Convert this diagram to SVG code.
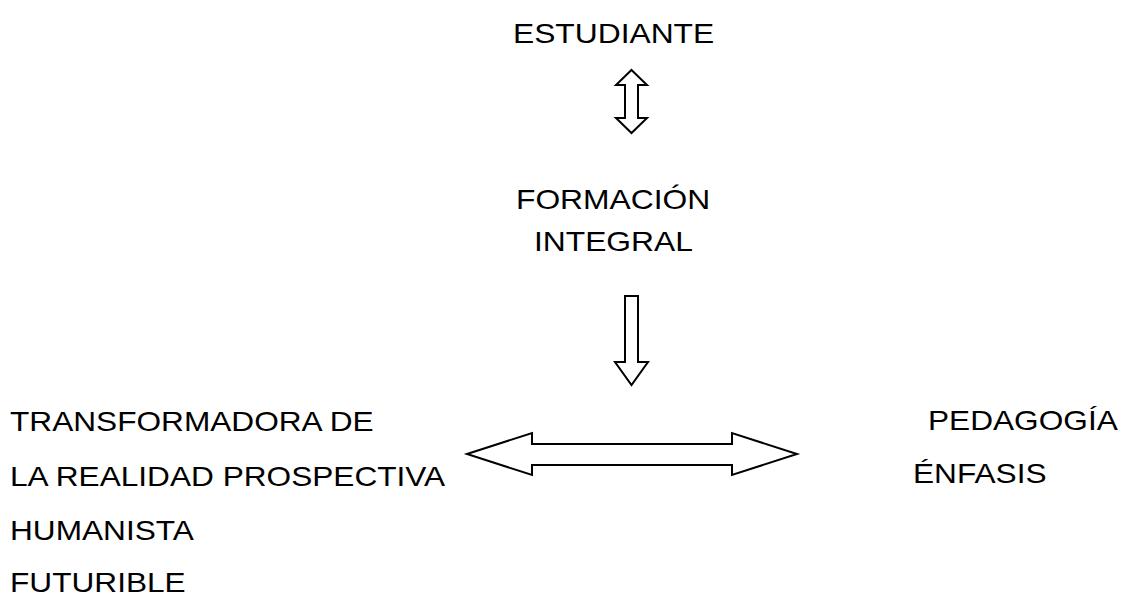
<svg xmlns="http://www.w3.org/2000/svg" width="1125" height="597" viewBox="0 0 1125 597">
<style>
text{font-family:"Liberation Sans",Arial,sans-serif;font-size:28.5px;fill:#000}
.arr{fill:#fff;stroke:#000;stroke-width:2;stroke-linejoin:miter}
</style>
<rect width="1125" height="597" fill="#fff"/>
<g id="estudiante"><text transform="matrix(1.115 0 0 1 513 43)">ESTUDIANTE</text></g>
<g id="formacion"><text transform="matrix(1.115 0 0 1 516 209)">FORMACIÓN</text>
<text transform="matrix(1.115 0 0 1 534 251)">INTEGRAL</text></g>
<g id="izquierda">
<text transform="matrix(1.11 0 0 1 10 431)">TRANSFORMADORA DE</text>
<text transform="matrix(1.11 0 0 1 10 486)">LA REALIDAD PROSPECTIVA</text>
<text transform="matrix(1.11 0 0 1 10 540)">HUMANISTA</text>
<text transform="matrix(1.11 0 0 1 10 592)">FUTURIBLE</text>
</g>
<g id="derecha">
<text transform="matrix(1.11 0 0 1 928 430)">PEDAGOGÍA</text>
<text transform="matrix(1.11 0 0 1 913 483)">ÉNFASIS</text>
</g>
<g id="connectors">
<polygon class="arr" points="631.5,70 647,85 638,85 638,118 647,118 631.5,133 616,118 625,118 625,85 616,85"/>
<polygon class="arr" points="625,296 638,296 638,362 648,362 631.5,385 615,362 625,362"/>
<polygon class="arr" points="467,454 532,433 532,444 732,444 732,433 797,454 732,475 732,465 532,465 532,475"/>
</g>
</svg>
